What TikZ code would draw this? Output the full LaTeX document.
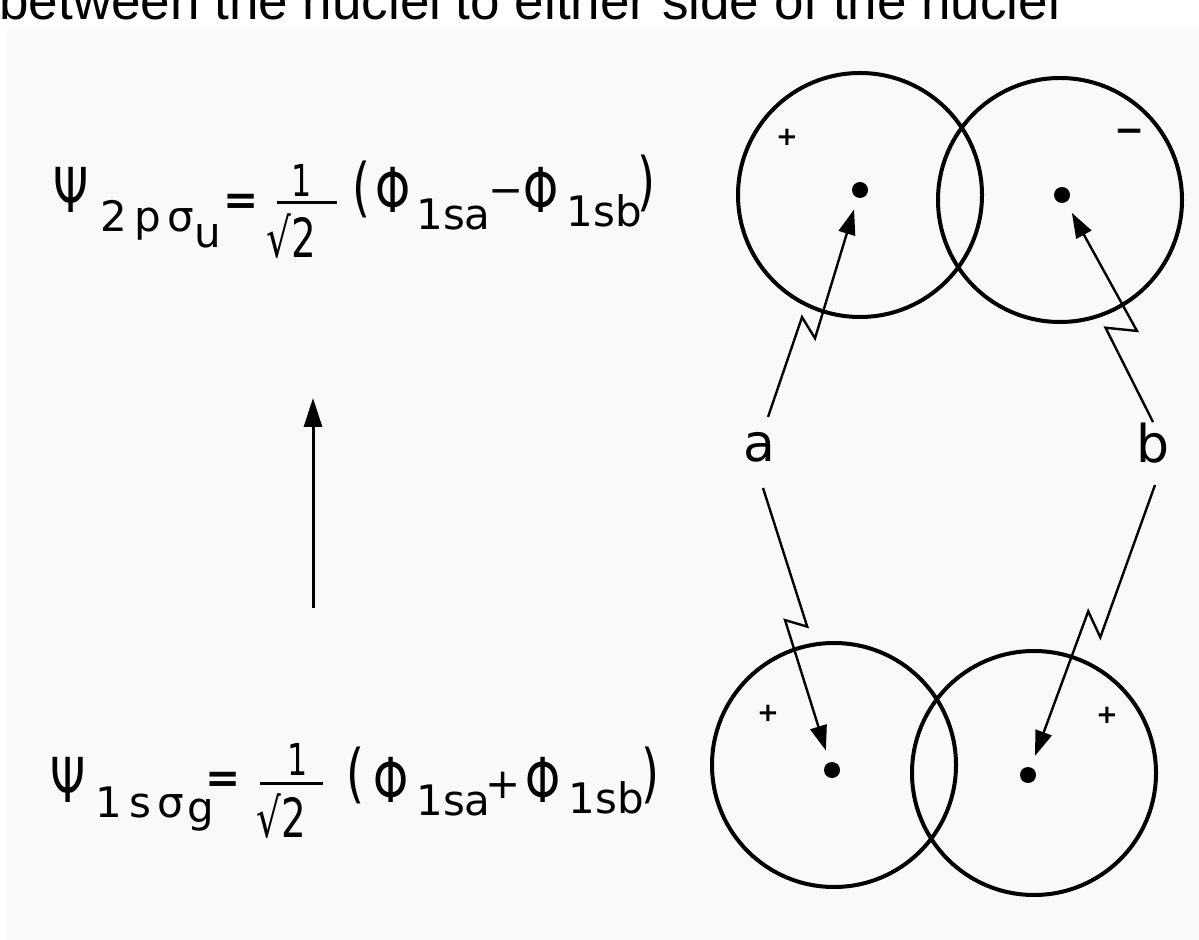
\documentclass[tikz,border=0pt]{standalone}
\usepackage{fontspec}
\setmainfont{DejaVu Sans}
\newfontfamily\headfont{Liberation Sans}
\newfontfamily\narrowfont[FakeStretch=0.72]{DejaVu Sans}
\usepackage{tikz}
\usetikzlibrary{calc,positioning}
\usetikzlibrary{arrows.meta}
\definecolor{paper}{RGB}{249,249,249}
% zigzag arrow: tail, nucleus, two break fractions, two side offsets
\newcommand{\zigarrow}[6]{\draw[zigline] (#1) -- ($(#1)!#3!(#2)!#5!90:(#2)$) -- ($(#1)!#4!(#2)!#6!-90:(#2)$) -- (#2);}
\tikzset{
    orbital/.style={line width=2pt, black},
    nucleus/.style={circle, fill=black, inner sep=0pt, minimum size=8pt},
    zigline/.style={
        line width=1.2pt,
        black,
        -{Triangle[length=12.5pt, width=8.5pt]},
        shorten >=6pt
    },
    uparrow/.style={
        line width=1.5pt,
        black,
        -{Triangle[length=14.5pt, width=9pt]}
    },
    bigsym/.style={font=\narrowfont\fontsize{31}{36}\selectfont, inner sep=0pt},
    subsym/.style={font=\fontsize{21}{25}\selectfont, inner sep=0pt},
    numsym/.style={font=\narrowfont\fontsize{22}{26}\selectfont, inner sep=0pt},
    densym/.style={font=\narrowfont\fontsize{27}{30}\selectfont, inner sep=0pt},
    parsym/.style={font=\narrowfont\fontsize{32}{36}\selectfont, inner sep=0pt},
    sign/.style={font=\bfseries\fontsize{13}{15}\selectfont, inner sep=0pt},
    nuclabel/.style={font=\fontsize{26}{30}\selectfont, inner sep=2pt}
}

\begin{document}
\begin{tikzpicture}[x=0.5pt, y=-0.5pt]
        \clip (0,0) rectangle (1199,940);
        \fill[paper] (7,28) rectangle (1199,940);

        % heading, cut by the page edge
        \node[font=\headfont\fontsize{26.5}{30}\selectfont, anchor=base west, inner sep=0pt] (head) at (-1,20) {between the nuclei to either side of the nuclei};

        % antibonding combination
        \node[bigsym, anchor=base west] (psiT) at (53,213) {Ψ};
        \node[subsym, anchor=base west] (psiTsub) at (100,232) {2\,p\,σ};
        \node[subsym, anchor=base west] (psiTsubb) at (194,248) {u};
        \node[subsym, font=\bfseries\fontsize{21}{25}\selectfont] (eqT) at (241,204) {=};
        \node[numsym, anchor=base] (numT) at (302,197) {1};
        \draw[line width=1.5pt] (277,203) -- (337,203);
        \node[densym, anchor=base west] (denT) at (266,258) {√2};
        \node[parsym] (lparT) at (361,189) {(};
        \node[bigsym, anchor=base west] (phiTa) at (375,213) {Φ};
        \node[subsym, anchor=base west] (phiTasub) at (416,230) {1sa};
        \node[subsym] (minusT) at (506,197) {−};
        \node[bigsym, anchor=base west] (phiTb) at (523,213) {Φ};
        \node[subsym, anchor=base west] (phiTbsub) at (566,227) {1sb};
        \node[parsym] (rparT) at (646,183) {)};

        % bonding combination
        \node[bigsym, anchor=base west] (psiB) at (50,802) {Ψ};
        \node[subsym, anchor=base west] (psiBsub) at (95,817) {1\,s\,σ};
        \node[subsym, anchor=base west] (psiBsubb) at (187,822) {g};
        \node[subsym, font=\bfseries\fontsize{21}{25}\selectfont] (eqB) at (223,782) {=};
        \node[numsym, anchor=base] (numB) at (298,775) {1};
        \draw[line width=1.5pt] (260,783) -- (323,783);
        \node[densym, anchor=base west] (denB) at (256,837) {√2};
        \node[parsym] (lparB) at (355,775) {(};
        \node[bigsym, anchor=base west] (phiBa) at (373,802) {Φ};
        \node[subsym, anchor=base west] (phiBasub) at (416,815) {1sa};
        \node[subsym] (plusB) at (503,785) {+};
        \node[bigsym, anchor=base west] (phiBb) at (525,802) {Φ};
        \node[subsym, anchor=base west] (phiBbsub) at (568,813) {1sb};
        \node[parsym] (rparB) at (650,775) {)};

        % excitation
        \coordinate (upFrom) at (313,608);
        \coordinate (upTo) at (313,398);
        \draw[uparrow] (upFrom) -- (upTo);

        % orbitals
        \draw[orbital] (860,195) circle[radius=61pt];
        \draw[orbital] (1060,200) circle[radius=61pt];
        \draw[orbital] (834,765) circle[radius=61pt];
        \draw[orbital] (1034,773) circle[radius=61pt];

        \node[nucleus] (dotTa) at (860,190) {};
        \node[nucleus] (dotTb) at (1062,195) {};
        \node[nucleus] (dotBa) at (832,770) {};
        \node[nucleus] (dotBb) at (1028,775) {};

        \node[sign] (sgnTa) at (787,137) {+};
        \node[sign, font=\bfseries\fontsize{18}{20}\selectfont] (sgnTb) at (1130,136) {−};
        \node[sign] (sgnBa) at (768,713) {+};
        \node[sign] (sgnBb) at (1107,715) {+};

        \node[nuclabel, anchor=base] (labA) at (759,462) {a};
        \node[nuclabel, anchor=base] (labB) at (1153,463) {b};

        \coordinate (aUp) at (768,417);
        \coordinate (bUp) at (1153,422);
        \coordinate (aDown) at (763,488);
        \coordinate (bDown) at (1155,485);

        \zigarrow{aUp}{dotTa}{0.43}{0.37}{3pt}{7pt}
        \zigarrow{bUp}{dotTb}{0.43}{0.37}{4.5pt}{9.5pt}
        \zigarrow{aDown}{dotBa}{0.50}{0.46}{5pt}{5pt}
        \zigarrow{bDown}{dotBb}{0.51}{0.45}{5.5pt}{5.25pt}

\end{tikzpicture}
\end{document}
